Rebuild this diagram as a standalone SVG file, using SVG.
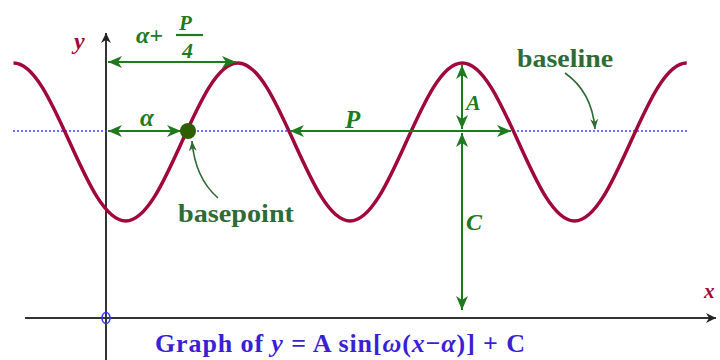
<svg xmlns="http://www.w3.org/2000/svg" width="720" height="360" viewBox="0 0 720 360">
<style>
.axis{stroke:#333;stroke-width:2;fill:none}
.curve{stroke:#a0083c;stroke-width:3.5;fill:none;stroke-linejoin:round}
.base{stroke:#4040ff;stroke-width:1.6;stroke-dasharray:2 2;fill:none}
.dim{stroke:#1f7a1f;stroke-width:2;fill:none;marker-start:url(#ga);marker-end:url(#ga)}
.lead{stroke:#2f6b35;stroke-width:1.6;fill:none;marker-end:url(#la)}
.sym{font-family:"Liberation Serif",serif;font-weight:bold;font-style:italic;fill:#1f7a1f}
.word{font-family:"Liberation Serif",serif;font-weight:bold;fill:#2f6b35}
.ax{font-family:"Liberation Serif",serif;font-weight:bold;font-style:italic;fill:#a0083c}
.title{font-family:"Liberation Serif",serif;font-weight:bold;font-size:26px;fill:#3b1fd6}
</style>
<defs>
<marker id="ga" viewBox="0 0 14 12" refX="14" refY="6" markerWidth="14" markerHeight="12" markerUnits="userSpaceOnUse" orient="auto-start-reverse">
<path d="M14,6 L0,0 L4,6 L0,12 Z" fill="#1f7a1f"/>
</marker>
<marker id="la" viewBox="0 0 10 8" refX="10" refY="4" markerWidth="10" markerHeight="8" markerUnits="userSpaceOnUse" orient="auto">
<path d="M10,4 L0,0 L3,4 L0,8 Z" fill="#2f6b35"/>
</marker>
<marker id="ka" viewBox="0 0 10 10" refX="10" refY="5" markerWidth="10" markerHeight="10" markerUnits="userSpaceOnUse" orient="auto">
<path d="M10,5 L0,0 L3,5 L0,10 Z" fill="#222"/>
</marker>
</defs>
<g id="axes">
<line class="axis" x1="25" y1="318" x2="716" y2="318" marker-end="url(#ka)"/>
<line class="axis" x1="106" y1="360" x2="106" y2="33" marker-end="url(#ka)"/>
<ellipse cx="106" cy="318" rx="4" ry="5.5" fill="none" stroke="#3333ff" stroke-width="1.6"/>
<text class="ax" x="74" y="49" font-size="24">y</text>
<text class="ax" x="704" y="298" font-size="21">x</text>
</g>
<g id="baseline-line">
<line class="base" x1="13" y1="131" x2="688" y2="131"/>
</g>
<g id="curve">
<path class="curve" d="M13.5,63 c20.3,0 37.8,38.5 56.1,79 c18.3,40.5 35.8,79 56.1,79 c20.3,0 37.8,-38.5 56.1,-79 c18.3,-40.5 35.8,-79 56.1,-79 c20.3,0 37.8,38.5 56.1,79 c18.3,40.5 35.8,79 56.1,79 c20.3,0 37.8,-38.5 56.1,-79 c18.3,-40.5 35.8,-79 56.1,-79 c20.3,0 37.8,38.5 56.1,79 c18.3,40.5 35.8,79 56.1,79 c20.3,0 37.8,-38.5 56.1,-79 c18.3,-40.5 35.8,-79 56.1,-79"/>
</g>
<g id="connectors">
<line class="dim" x1="108" y1="62" x2="236" y2="62"/>
<line class="dim" x1="108" y1="131" x2="181" y2="131"/>
<line class="dim" x1="290" y1="131" x2="511" y2="131"/>
<line class="dim" x1="462" y1="129" x2="462" y2="65"/>
<line class="dim" x1="462" y1="133" x2="462" y2="310"/>
<path class="lead" d="M565,73 Q592,92 595,129"/>
<path class="lead" d="M218,198 Q195,178 192,141"/>
</g>
<g id="basepoint">
<circle cx="188" cy="131" r="8" fill="#2e5e00"/>
<text class="word" x="178" y="222" font-size="25" textLength="116" lengthAdjust="spacingAndGlyphs">basepoint</text>
</g>
<g id="baseline-label">
<text class="word" x="517" y="67" font-size="25" textLength="96" lengthAdjust="spacingAndGlyphs">baseline</text>
</g>
<g id="labels">
<text class="sym" x="136" y="43" font-size="24">α+</text>
<text class="sym" x="179" y="30" font-size="21">P</text>
<line x1="176" y1="35" x2="203" y2="35" stroke="#1f7a1f" stroke-width="2.2"/>
<text class="sym" x="182" y="58" font-size="22" font-style="normal">4</text>
<text class="sym" x="140" y="126" font-size="25">α</text>
<text class="sym" x="345" y="128" font-size="25">P</text>
<text class="sym" x="466" y="110" font-size="22">A</text>
<text class="sym" x="466" y="230" font-size="24">C</text>
</g>
<g id="title">
<text class="title" x="155" y="352" textLength="370" lengthAdjust="spacing">Graph of <tspan font-style="italic">y</tspan> = A sin[<tspan font-style="italic">ω</tspan>(<tspan font-style="italic">x</tspan>−<tspan font-style="italic">α</tspan>)] + C</text>
</g>
</svg>
